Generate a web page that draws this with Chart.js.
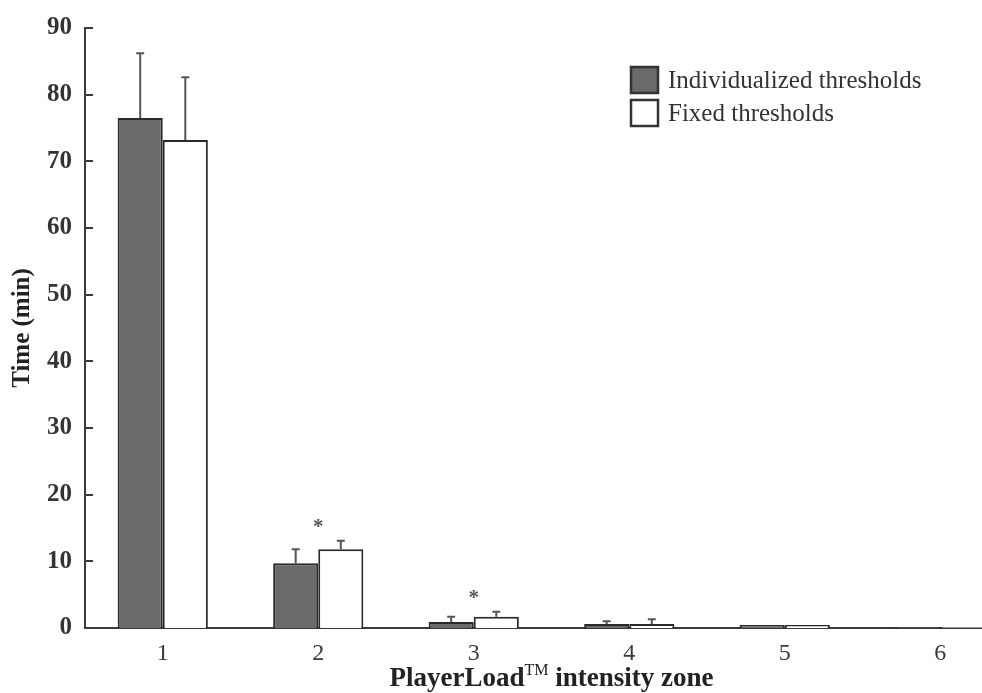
<!DOCTYPE html>
<html>
<head>
<meta charset="utf-8">
<title>Time in PlayerLoad intensity zones</title>
<script src="https://cdn.jsdelivr.net/npm/chart.js@4/dist/chart.umd.min.js"></script>
<style>
    html, body { margin: 0; padding: 0; background: #fff; overflow: hidden; }
    #wrap { width: 1040px; height: 693px; }
</style>
</head>
<body>
<div id="wrap"><canvas id="grafico" width="1040" height="693"></canvas></div>
<script>
// valores (min) por zona
const zonas = ["1", "2", "3", "4", "5", "6"];
const individualizados = [76.5, 9.7, 0.9, 0.6, 0.45, 0.15];
const individualizadosDE = [9.7, 2.1, 0.8, 0.4, 0.1, 0.05];
const fijos = [73.2, 11.8, 1.7, 0.6, 0.45, 0.15];
const fijosDE = [9.4, 1.3, 0.75, 0.7, 0.1, 0.05];
const zonasSignificativas = ["2", "3"];
const ticksY = [0, 10, 20, 30, 40, 50, 60, 70, 80, 90];

const SERIF = "'Liberation Serif', 'Times New Roman', serif";
const GRIS_EJE = "#3a3a3a";

// barras de error (solo hacia arriba) + asteriscos
const plugErrores = {
    id: "errores",
    afterDatasetsDraw(chart) {
        const ctx = chart.ctx;
        const y = chart.scales.y;
        const desvios = [individualizadosDE, fijosDE];
        const topes = zonas.map(() => 0);

        ctx.save();
        ctx.strokeStyle = "#555";
        ctx.lineWidth = 2;
        chart.data.datasets.forEach((ds, i) => {
            const meta = chart.getDatasetMeta(i);
            meta.data.forEach((bar, j) => {
                const tope = ds.data[j] + desvios[i][j];
                const yTop = y.getPixelForValue(tope);
                topes[j] = Math.max(topes[j], tope);
                if (bar.y - yTop < 2) return;
                ctx.beginPath();
                ctx.moveTo(bar.x, bar.y);
                ctx.lineTo(bar.x, yTop);
                ctx.moveTo(bar.x - 4, yTop);
                ctx.lineTo(bar.x + 4, yTop);
                ctx.stroke();
            });
        });

        ctx.fillStyle = "#555";
        ctx.font = `bold 21px ${SERIF}`;
        ctx.textAlign = "center";
        ctx.textBaseline = "alphabetic";
        zonasSignificativas.forEach(z => {
            const j = zonas.indexOf(z);
            const x = chart.scales.x.getPixelForValue(j);
            const yc = y.getPixelForValue(topes[j]) - 20;
            ctx.fillText("*", x, yc + 12);
        });
        ctx.restore();
    }
};

// marcas del eje Y hacia adentro, leyenda y título del eje X
const plugDecoracion = {
    id: "decoracion",
    afterDraw(chart) {
        const ctx = chart.ctx;
        const area = chart.chartArea;
        const y = chart.scales.y;

        ctx.save();
        ctx.strokeStyle = GRIS_EJE;
        ctx.lineWidth = 2;
        ticksY.forEach(v => {
            const py = Math.round(y.getPixelForValue(v));
            ctx.beginPath();
            ctx.moveTo(area.left, py);
            ctx.lineTo(area.left + 8, py);
            ctx.stroke();
        });

        // leyenda
        ctx.font = `25px ${SERIF}`;
        ctx.textAlign = "left";
        ctx.textBaseline = "alphabetic";
        chart.data.datasets.forEach((ds, i) => {
            const top = 67 + i * 33;
            ctx.fillStyle = ds.backgroundColor;
            ctx.fillRect(631, top, 27, 26);
            ctx.strokeStyle = "#333";
            ctx.lineWidth = 2.5;
            ctx.strokeRect(631, top, 27, 26);
            ctx.fillStyle = "#333";
            ctx.fillText(ds.label, 668, top + 21);
        });

        // título eje X con superíndice
        const partes = [
            { t: "PlayerLoad", f: `bold 27px ${SERIF}`, dy: 0 },
            { t: "TM", f: `16px ${SERIF}`, dy: -11 },
            { t: " intensity zone", f: `bold 27px ${SERIF}`, dy: 0 }
        ];
        let ancho = 0;
        partes.forEach(p => { ctx.font = p.f; ancho += ctx.measureText(p.t).width; });
        let x = (area.left + area.right) / 2 - ancho / 2;
        ctx.fillStyle = "#222";
        partes.forEach(p => {
            ctx.font = p.f;
            ctx.fillText(p.t, x, 686 + p.dy);
            x += ctx.measureText(p.t).width;
        });
        ctx.restore();
    }
};

const ctx = document.getElementById("grafico");

new Chart(ctx, {
    type: "bar",
    data: {
        labels: zonas,
        datasets: [
            {
                label: "Individualized thresholds",
                data: individualizados,
                backgroundColor: "#6a6a6a",
                borderColor: "#2a2a2a",
                borderWidth: 2
            },
            {
                label: "Fixed thresholds",
                data: fijos,
                backgroundColor: "#ffffff",
                borderColor: "#2a2a2a",
                borderWidth: 2
            }
        ]
    },
    options: {
        responsive: false,
        animation: false,
        layout: { padding: { top: 28, right: 22, left: 0, bottom: 0 } },
        plugins: {
            legend: { display: false },
            tooltip: { enabled: false }
        },
        datasets: {
            bar: { categoryPercentage: 0.58, barPercentage: 1.0 }
        },
        scales: {
            x: {
                grid: { display: false, drawTicks: false },
                border: { display: true, color: GRIS_EJE, width: 2 },
                ticks: {
                    color: "#3a3a3a",
                    padding: 11,
                    font: { family: SERIF, size: 24 }
                },
                afterFit: s => { s.height = 65; }
            },
            y: {
                min: 0,
                max: 90,
                grid: { display: false, drawTicks: false },
                border: { display: true, color: GRIS_EJE, width: 2 },
                ticks: {
                    stepSize: 10,
                    color: "#333",
                    padding: 13,
                    font: { family: SERIF, size: 25, weight: "bold" }
                },
                title: {
                    display: true,
                    text: "Time (min)",
                    color: "#222",
                    padding: { top: 8, bottom: 0 },
                    font: { family: SERIF, size: 25, weight: "bold" }
                },
                afterFit: s => { s.width = 85; }
            }
        }
    },
    plugins: [plugErrores, plugDecoracion]
});
</script>
</body>
</html>
